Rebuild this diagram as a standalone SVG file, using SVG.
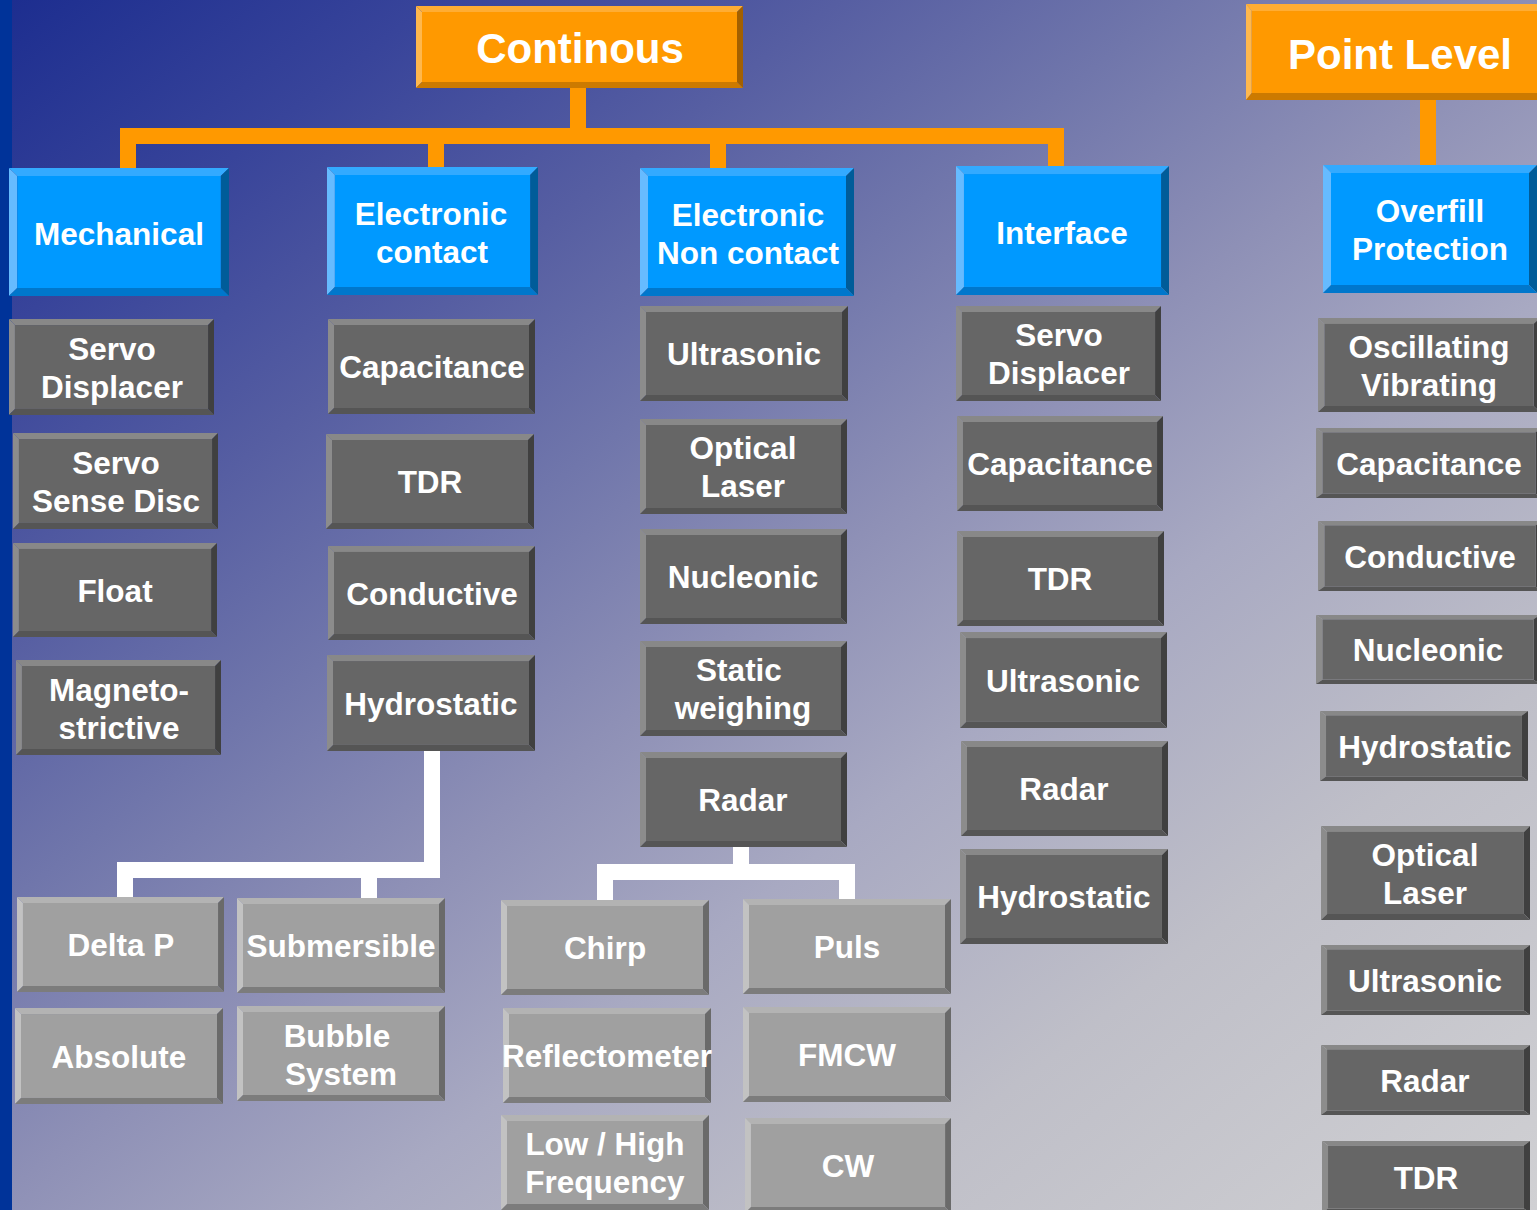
<svg xmlns="http://www.w3.org/2000/svg" xmlns:xlink="http://www.w3.org/1999/xlink" width="1537" height="1210" viewBox="0 0 1537 1210">
<defs>
<linearGradient id="bg" gradientUnits="userSpaceOnUse" x1="0" y1="0" x2="1156" y2="1503">
<stop offset="0" stop-color="#1c2d8f"/>
<stop offset="0.14" stop-color="#38449a"/>
<stop offset="0.27" stop-color="#565ea2"/>
<stop offset="0.38" stop-color="#7076ab"/>
<stop offset="0.5" stop-color="#8e90b6"/>
<stop offset="0.62" stop-color="#a8a9c2"/>
<stop offset="0.78" stop-color="#bfbfc8"/>
<stop offset="1" stop-color="#d0d0d3"/>
</linearGradient>
<symbol id="dk" viewBox="0 0 207 95" preserveAspectRatio="none">
<polygon points="0,0 207,0 201,6 6,6" fill="#888888"/>
<polygon points="0,0 6,6 6,89 0,95" fill="#8c8c8c"/>
<polygon points="207,0 207,95 201,89 201,6" fill="#404040"/>
<polygon points="0,95 6,89 201,89 207,95" fill="#555555"/>
<rect x="6" y="6" width="195" height="83" fill="#666666"/>
</symbol>
<symbol id="lt" viewBox="0 0 208 95" preserveAspectRatio="none">
<polygon points="0,0 208,0 202,6 6,6" fill="#b3b3b3"/>
<polygon points="0,0 6,6 6,89 0,95" fill="#c2c2c2"/>
<polygon points="208,0 208,95 202,89 202,6" fill="#6a6a6a"/>
<polygon points="0,95 6,89 202,89 208,95" fill="#7c7c7c"/>
<rect x="6" y="6" width="196" height="83" fill="#a0a0a0"/>
</symbol>
<symbol id="bl" viewBox="0 0 214 128" preserveAspectRatio="none">
<polygon points="0,0 214,0 206,8 8,8" fill="#33aaff"/>
<polygon points="0,0 8,8 8,120 0,128" fill="#66bbff"/>
<polygon points="214,0 214,128 206,120 206,8" fill="#005c99"/>
<polygon points="0,128 8,120 206,120 214,128" fill="#0077cc"/>
<rect x="8" y="8" width="198" height="112" fill="#0099ff"/>
</symbol>
<symbol id="or" viewBox="0 0 327 82" preserveAspectRatio="none">
<polygon points="0,0 327,0 321,6 6,6" fill="#ffad33"/>
<polygon points="0,0 6,6 6,76 0,82" fill="#ffb84d"/>
<polygon points="327,0 327,82 321,76 321,6" fill="#a36000"/>
<polygon points="0,82 6,76 321,76 327,82" fill="#cc7a00"/>
<rect x="6" y="6" width="315" height="70" fill="#ff9900"/>
</symbol>
</defs>
<style>
.t{font-family:"Liberation Sans",Arial,sans-serif;font-weight:bold;fill:#ffffff;text-anchor:middle;font-size:31.5px}
.big{font-size:42px}
.oc{fill:none;stroke:#ff9900;stroke-width:16;stroke-linejoin:miter}
.wc{fill:none;stroke:#ffffff;stroke-width:16;stroke-linejoin:miter}
</style>
<rect x="0" y="0" width="1537" height="1210" fill="url(#bg)"/>
<rect x="0" y="0" width="12" height="1210" fill="#003399"/>

<g id="connectors">
<path class="oc" d="M578,88 V136"/>
<path class="oc" d="M128,168 V136 H1056 V166"/>
<path class="oc" d="M436,136 V167"/>
<path class="oc" d="M718,136 V168"/>
<path class="oc" d="M1428,100 V165"/>
<path class="wc" d="M432,751 V870 H125 V897"/>
<path class="wc" d="M369,870 V898"/>
<path class="wc" d="M741,847 V872"/>
<path class="wc" d="M605,900 V872 H847 V899"/>
</g>

<g id="n-continous"><use href="#or" x="416" y="6" width="327" height="82"/><text class="t big" x="580" y="63">Continous</text></g>
<g id="n-pointlevel"><use href="#or" x="1246" y="4" width="310" height="96"/><text class="t big" x="1400" y="69">Point Level</text></g>

<g id="n-mechanical"><use href="#bl" x="9" y="168" width="220" height="128"/><text class="t" x="119" y="245">Mechanical</text></g>
<g id="n-econtact"><use href="#bl" x="327" y="167" width="211" height="128"/><text class="t" x="431" y="225">Electronic</text><text class="t" x="432" y="263">contact</text></g>
<g id="n-enoncontact"><use href="#bl" x="640" y="168" width="214" height="128"/><text class="t" x="748" y="226">Electronic</text><text class="t" x="748" y="264">Non contact</text></g>
<g id="n-interface"><use href="#bl" x="956" y="166" width="213" height="129"/><text class="t" x="1062" y="244">Interface</text></g>
<g id="n-overfill"><use href="#bl" x="1323" y="165" width="214" height="128"/><text class="t" x="1430" y="222">Overfill</text><text class="t" x="1430" y="260">Protection</text></g>

<g id="n-m-servodisp"><use href="#dk" x="9" y="319" width="205" height="96"/><text class="t" x="112" y="360">Servo</text><text class="t" x="112" y="398">Displacer</text></g>
<g id="n-m-servosense"><use href="#dk" x="13" y="433" width="205" height="96"/><text class="t" x="116" y="474">Servo</text><text class="t" x="116" y="512">Sense Disc</text></g>
<g id="n-m-float"><use href="#dk" x="13" y="543" width="204" height="94"/><text class="t" x="115" y="602">Float</text></g>
<g id="n-m-magneto"><use href="#dk" x="16" y="660" width="205" height="95"/><text class="t" x="119" y="701">Magneto-</text><text class="t" x="119" y="739">strictive</text></g>

<g id="n-ec-capacitance"><use href="#dk" x="328" y="319" width="207" height="95"/><text class="t" x="432" y="378">Capacitance</text></g>
<g id="n-ec-tdr"><use href="#dk" x="326" y="434" width="208" height="95"/><text class="t" x="430" y="493">TDR</text></g>
<g id="n-ec-conductive"><use href="#dk" x="328" y="546" width="207" height="94"/><text class="t" x="432" y="605">Conductive</text></g>
<g id="n-ec-hydrostatic"><use href="#dk" x="327" y="655" width="208" height="96"/><text class="t" x="431" y="715">Hydrostatic</text></g>

<g id="n-enc-ultrasonic"><use href="#dk" x="640" y="306" width="208" height="95"/><text class="t" x="744" y="365">Ultrasonic</text></g>
<g id="n-enc-optical"><use href="#dk" x="640" y="419" width="207" height="95"/><text class="t" x="743" y="459">Optical</text><text class="t" x="743" y="497">Laser</text></g>
<g id="n-enc-nucleonic"><use href="#dk" x="640" y="529" width="207" height="95"/><text class="t" x="743" y="588">Nucleonic</text></g>
<g id="n-enc-static"><use href="#dk" x="640" y="641" width="207" height="95"/><text class="t" x="739" y="681">Static</text><text class="t" x="743" y="719">weighing</text></g>
<g id="n-enc-radar"><use href="#dk" x="640" y="752" width="207" height="95"/><text class="t" x="743" y="811">Radar</text></g>

<g id="n-if-servodisp"><use href="#dk" x="956" y="306" width="205" height="95"/><text class="t" x="1059" y="346">Servo</text><text class="t" x="1059" y="384">Displacer</text></g>
<g id="n-if-capacitance"><use href="#dk" x="957" y="416" width="206" height="95"/><text class="t" x="1060" y="475">Capacitance</text></g>
<g id="n-if-tdr"><use href="#dk" x="957" y="531" width="207" height="95"/><text class="t" x="1060" y="590">TDR</text></g>
<g id="n-if-ultrasonic"><use href="#dk" x="960" y="632" width="207" height="96"/><text class="t" x="1063" y="692">Ultrasonic</text></g>
<g id="n-if-radar"><use href="#dk" x="961" y="741" width="207" height="95"/><text class="t" x="1064" y="800">Radar</text></g>
<g id="n-if-hydrostatic"><use href="#dk" x="960" y="849" width="208" height="95"/><text class="t" x="1064" y="908">Hydrostatic</text></g>

<g id="n-pl-oscillating"><use href="#dk" x="1318" y="318" width="222" height="94"/><text class="t" x="1429" y="358">Oscillating</text><text class="t" x="1429" y="396">Vibrating</text></g>
<g id="n-pl-capacitance"><use href="#dk" x="1316" y="428" width="226" height="70"/><text class="t" x="1429" y="475">Capacitance</text></g>
<g id="n-pl-conductive"><use href="#dk" x="1318" y="521" width="224" height="70"/><text class="t" x="1430" y="568">Conductive</text></g>
<g id="n-pl-nucleonic"><use href="#dk" x="1316" y="615" width="224" height="69"/><text class="t" x="1428" y="661">Nucleonic</text></g>
<g id="n-pl-hydrostatic"><use href="#dk" x="1320" y="711" width="208" height="70"/><text class="t" x="1425" y="758">Hydrostatic</text></g>
<g id="n-pl-optical"><use href="#dk" x="1321" y="826" width="209" height="94"/><text class="t" x="1425" y="866">Optical</text><text class="t" x="1425" y="904">Laser</text></g>
<g id="n-pl-ultrasonic"><use href="#dk" x="1321" y="945" width="209" height="70"/><text class="t" x="1425" y="992">Ultrasonic</text></g>
<g id="n-pl-radar"><use href="#dk" x="1321" y="1045" width="209" height="70"/><text class="t" x="1425" y="1092">Radar</text></g>
<g id="n-pl-tdr"><use href="#dk" x="1322" y="1141" width="208" height="72"/><text class="t" x="1426" y="1189">TDR</text></g>

<g id="n-deltap"><use href="#lt" x="17" y="897" width="207" height="95"/><text class="t" x="121" y="956">Delta P</text></g>
<g id="n-submersible"><use href="#lt" x="237" y="898" width="208" height="95"/><text class="t" x="341" y="957">Submersible</text></g>
<g id="n-absolute"><use href="#lt" x="15" y="1008" width="208" height="96"/><text class="t" x="119" y="1068">Absolute</text></g>
<g id="n-bubble"><use href="#lt" x="237" y="1006" width="208" height="95"/><text class="t" x="337" y="1047">Bubble</text><text class="t" x="341" y="1085">System</text></g>
<g id="n-chirp"><use href="#lt" x="501" y="900" width="208" height="95"/><text class="t" x="605" y="959">Chirp</text></g>
<g id="n-puls"><use href="#lt" x="743" y="899" width="208" height="95"/><text class="t" x="847" y="958">Puls</text></g>
<g id="n-reflectometer"><use href="#lt" x="503" y="1008" width="208" height="95"/><text class="t" x="607" y="1067">Reflectometer</text></g>
<g id="n-fmcw"><use href="#lt" x="743" y="1007" width="208" height="95"/><text class="t" x="847" y="1066">FMCW</text></g>
<g id="n-lowhigh"><use href="#lt" x="501" y="1115" width="208" height="95"/><text class="t" x="605" y="1155">Low / High</text><text class="t" x="605" y="1193">Frequency</text></g>
<g id="n-cw"><use href="#lt" x="745" y="1118" width="206" height="95"/><text class="t" x="848" y="1177">CW</text></g>
</svg>
